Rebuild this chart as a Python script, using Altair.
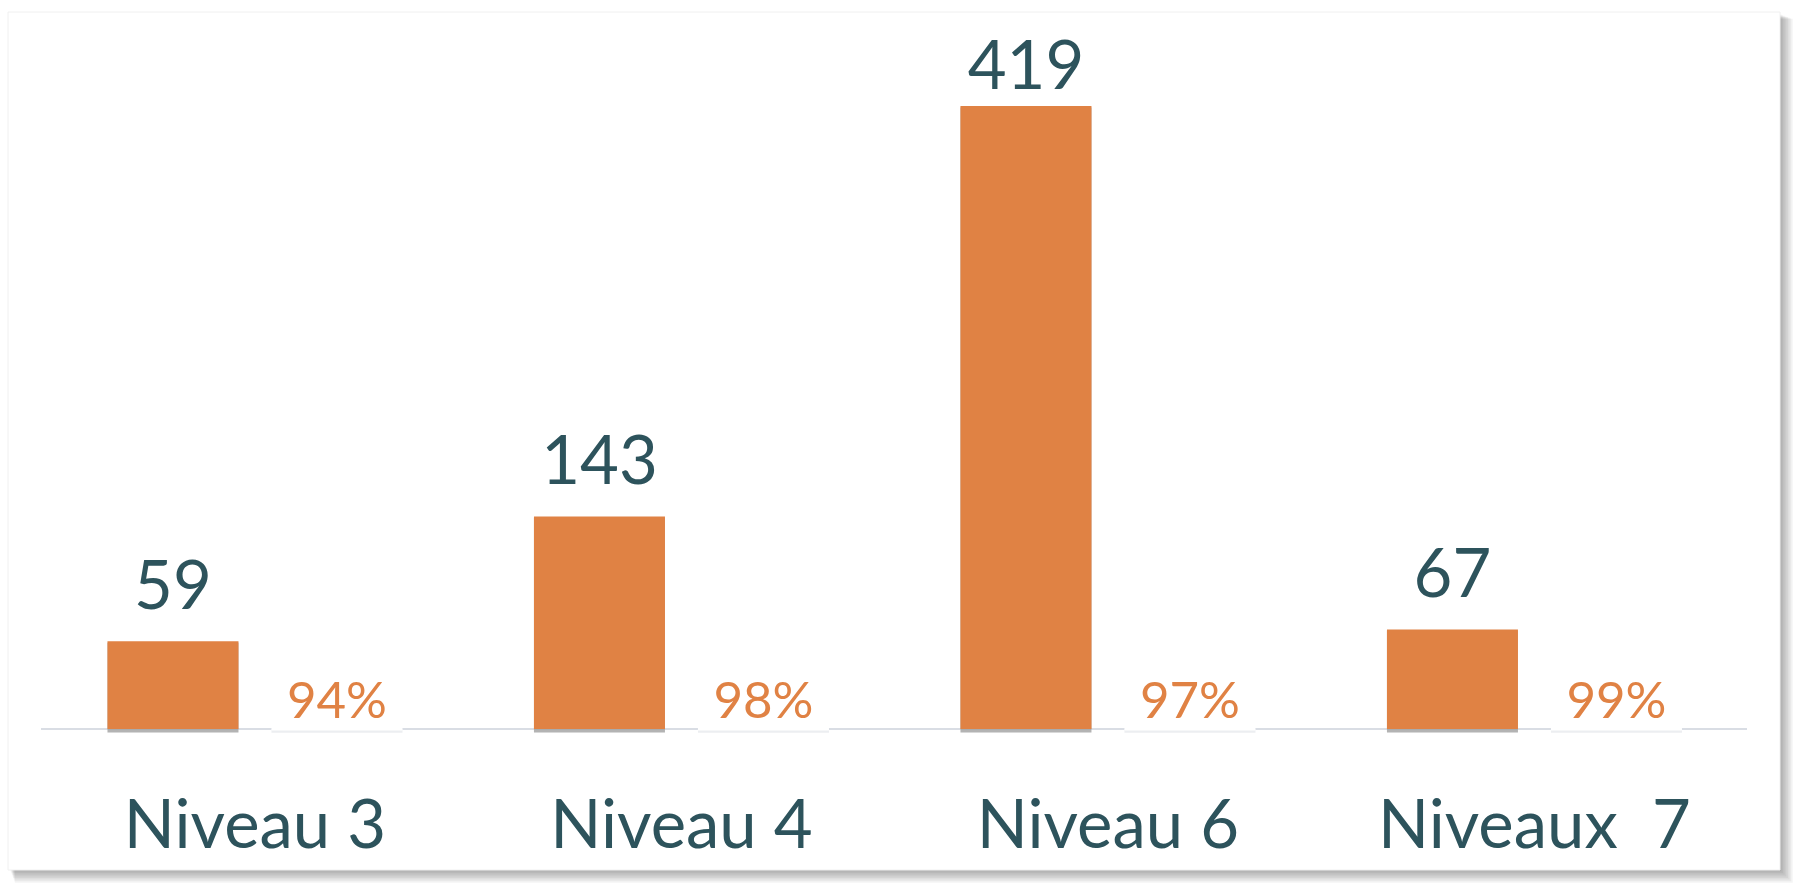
import altair as alt
import pandas as pd

# Effectifs par niveau et taux associé
niveaux = ["Niveau 3", "Niveau 4", "Niveau 6", "Niveaux \u00a07"]
effectifs = [59, 143, 419, 67]
taux = [0.94, 0.98, 0.97, 0.99]

W, H = 1794, 888
ORANGE = "#E08244"
TEAL = "#2D535C"
FONT = "Lato"
BAR_W = 131
SHIFT = 82  # distance between each category centre and its two columns

df_bars = pd.DataFrame({"niveau": niveaux, "valeur": effectifs})
df_taux = pd.DataFrame({"niveau": niveaux, "taux": taux})
df_one = pd.DataFrame({"k": [0]})

x_scale = alt.Scale(domain=niveaux, paddingInner=0, paddingOuter=0.1032, align=0.474)
y_scale = alt.Scale(domain=[-106.9, 490.3], zero=False, nice=False)

X = alt.X("niveau:N", scale=x_scale, sort=niveaux, axis=None)

# Card with a soft drop shadow
shadow_layers = []
for i in range(1, 9):
    shadow_layers.append(
        alt.Chart(df_one).mark_rect(color="#000000", opacity=0.045).encode(
            x=alt.value(8 + 2 + i * 0.6),
            x2=alt.value(1780 + i * 1.6),
            y=alt.value(12 + 2 + i * 0.6),
            y2=alt.value(870 + i * 1.6),
        )
    )

card = alt.Chart(df_one).mark_rect(color="#ffffff", stroke="#f0f0f0", strokeWidth=1).encode(
    x=alt.value(8), x2=alt.value(1780), y=alt.value(12), y2=alt.value(870)
)

baseline = alt.Chart(df_one).transform_calculate(zero="0").mark_rule(
    color="#D9DDE4", strokeWidth=2
).encode(
    x=alt.value(41), x2=alt.value(1747),
    y=alt.Y("zero:Q", scale=y_scale, axis=None),
)

bar_shadow = alt.Chart(df_bars).transform_calculate(
    top="datum.valeur - 1", bottom="-2.4"
).mark_bar(color="#9A9A9A", opacity=0.75, width=BAR_W, xOffset=-SHIFT).encode(
    x=X,
    y=alt.Y("top:Q", scale=y_scale, axis=None),
    y2="bottom:Q",
)

bars = alt.Chart(df_bars).transform_calculate(bottom="0").mark_bar(
    color=ORANGE, width=BAR_W, xOffset=-SHIFT
).encode(
    x=X,
    y=alt.Y("valeur:Q", scale=y_scale, axis=None),
    y2="bottom:Q",
)

box_shadow = alt.Chart(df_taux).transform_calculate(
    top="0", bottom="-2.5"
).mark_bar(color="#ECEEF1", width=BAR_W, xOffset=SHIFT).encode(
    x=X,
    y=alt.Y("top:Q", scale=y_scale, axis=None),
    y2="bottom:Q",
)

box = alt.Chart(df_taux).transform_calculate(
    top="35", bottom="-1.0"
).mark_bar(color="#ffffff", width=BAR_W, xOffset=SHIFT).encode(
    x=X,
    y=alt.Y("top:Q", scale=y_scale, axis=None),
    y2="bottom:Q",
)

value_labels = alt.Chart(df_bars).transform_calculate(
    ancre="min(datum.valeur, 409)"
).mark_text(
    font=FONT, fontSize=67, color=TEAL, baseline="alphabetic", align="center",
    dx=-SHIFT, dy=-32,
).encode(
    x=X,
    y=alt.Y("ancre:Q", scale=y_scale, axis=None),
    text=alt.Text("valeur:Q", format="d"),
)

taux_labels = alt.Chart(df_taux).transform_calculate(zero="0").mark_text(
    font=FONT, fontSize=51, color=ORANGE, baseline="alphabetic", align="center",
    dx=SHIFT, dy=-11,
).encode(
    x=X,
    y=alt.Y("zero:Q", scale=y_scale, axis=None),
    text=alt.Text("taux:Q", format=".0%"),
)

cat_labels = alt.Chart(pd.DataFrame({"niveau": niveaux})).transform_calculate(
    pos="-80"
).mark_text(
    font=FONT, fontSize=67, color=TEAL, baseline="alphabetic", align="center"
).encode(
    x=X,
    y=alt.Y("pos:Q", scale=y_scale, axis=None),
    text="niveau:N",
)

chart = alt.layer(
    *shadow_layers, card, baseline, bar_shadow, bars, box_shadow, box,
    value_labels, taux_labels, cat_labels
).properties(
    width=W, height=H, padding=0, autosize=alt.AutoSizeParams(type="none"),
    background="#ffffff",
).configure_view(stroke=None)

chart.save("out.html", embed_options={"renderer": "svg", "actions": False})
